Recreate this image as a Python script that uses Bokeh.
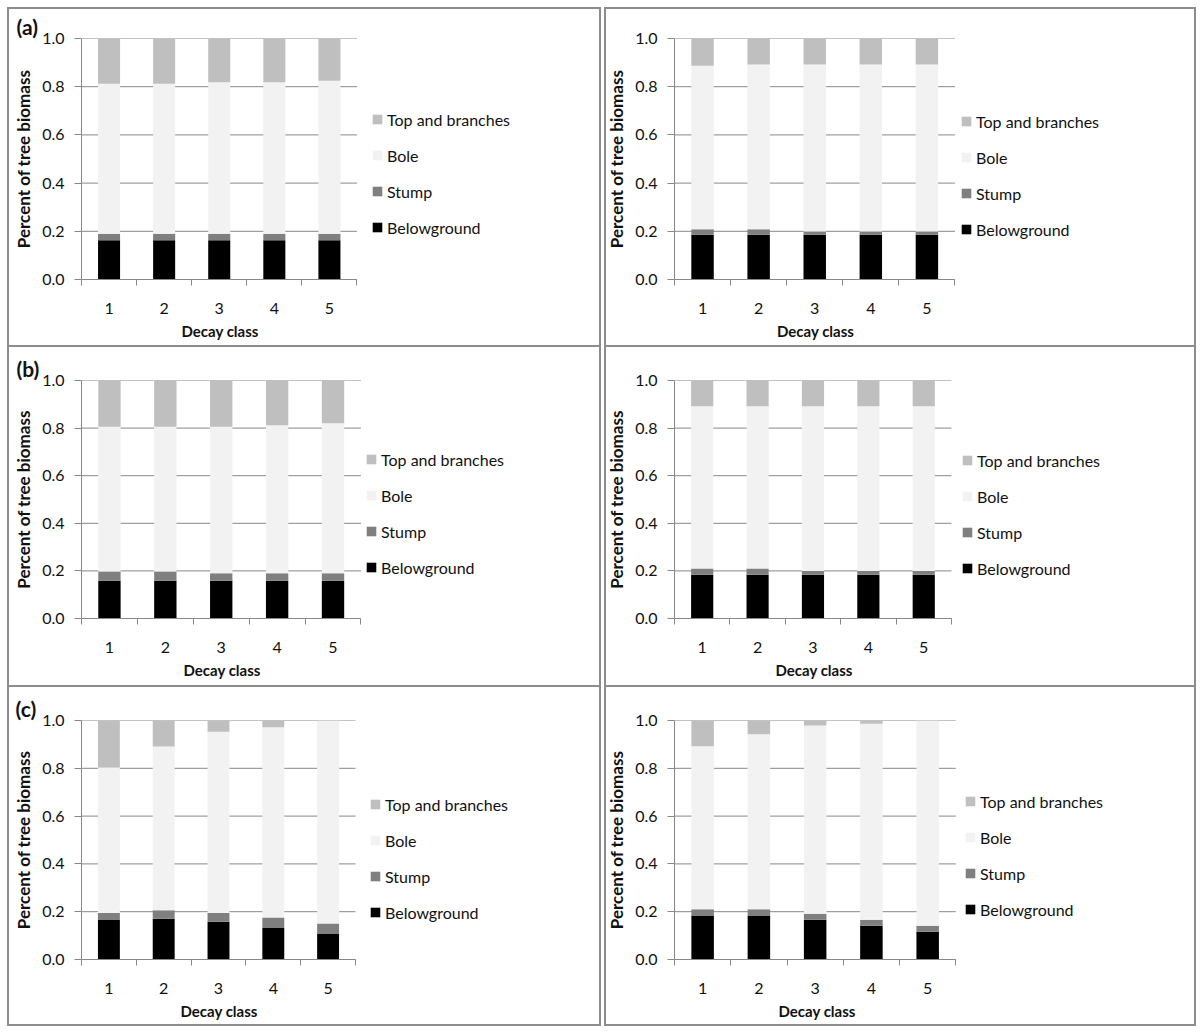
from bokeh.plotting import figure
from bokeh.layouts import gridplot
from bokeh.models import (Range1d, FixedTicker, Legend, LegendItem, Title,
                          PrintfTickFormatter, ColumnDataSource)
from bokeh.embed import file_html
from bokeh.resources import INLINE

# ---------------- data ----------------
decay_class = [1, 2, 3, 4, 5]
components = ["Belowground", "Stump", "Bole", "Top and branches"]
y_ticks = [0.0, 0.2, 0.4, 0.6, 0.8, 1.0]
panel_tags = ["(a)", "", "(b)", "", "(c)", ""]
x_title = "Decay class"
y_title = "Percent of tree biomass"

# (a) left
a1_below = [0.163, 0.163, 0.163, 0.163, 0.163]
a1_stump = [0.027, 0.027, 0.027, 0.027, 0.027]
a1_bole = [0.622, 0.622, 0.628, 0.628, 0.635]
a1_top = [0.188, 0.188, 0.182, 0.182, 0.175]
# (a) right
a2_below = [0.186, 0.186, 0.186, 0.186, 0.186]
a2_stump = [0.023, 0.023, 0.013, 0.013, 0.013]
a2_bole = [0.678, 0.683, 0.693, 0.693, 0.693]
a2_top = [0.113, 0.108, 0.108, 0.108, 0.108]
# (b) left
b1_below = [0.159, 0.159, 0.159, 0.159, 0.159]
b1_stump = [0.038, 0.038, 0.031, 0.031, 0.031]
b1_bole = [0.609, 0.609, 0.616, 0.622, 0.630]
b1_top = [0.194, 0.194, 0.194, 0.188, 0.180]
# (b) right
b2_below = [0.184, 0.184, 0.184, 0.184, 0.184]
b2_stump = [0.026, 0.026, 0.016, 0.016, 0.016]
b2_bole = [0.682, 0.682, 0.692, 0.692, 0.692]
b2_top = [0.108, 0.108, 0.108, 0.108, 0.108]
# (c) left
c1_below = [0.165, 0.170, 0.158, 0.132, 0.107]
c1_stump = [0.030, 0.036, 0.037, 0.044, 0.044]
c1_bole = [0.608, 0.685, 0.758, 0.796, 0.849]
c1_top = [0.197, 0.109, 0.047, 0.028, 0.000]
# (c) right
c2_below = [0.184, 0.184, 0.166, 0.141, 0.116]
c2_stump = [0.026, 0.026, 0.025, 0.025, 0.025]
c2_bole = [0.682, 0.732, 0.788, 0.820, 0.859]
c2_top = [0.108, 0.058, 0.021, 0.014, 0.000]

# ---------------- styling ----------------
COLORS = ["#000000", "#7f7f7f", "#f2f2f2", "#bfbfbf"]
GREY = "#888888"
FONT = "Lato"
TXT = "#111111"
RIGHT_PAD = 4
X_TITLE_HALF_W = 38   # approx. half width of the bold x title, px

# fig w, fig h, frame left, plot-area width, frame top, frame height,
# legend x (from plot-area right), legend y (from frame bottom),
# border insets (top, right, bottom, left) -- None = no line on that side
layouts = [
    (603, 347, 80, 276, 38, 241, 14, 42, (7, 2, 0, 7)),
    (597, 347, 70, 281, 34, 248, 5, 40, (7, 4, 0, 1)),
    (603, 340, 80, 280, 33, 238, 4, 41, (None, 2, 0, 7)),
    (597, 340, 69, 278, 33, 242, 9, 40, (None, 4, 0, 1)),
    (603, 346, 81, 274, 33, 239, 14, 37, (None, 2, 7, 7)),
    (597, 346, 66, 284, 33, 242, 6, 40, (None, 4, 7, 1)),
]

panel_data = [
    (a1_below, a1_stump, a1_bole, a1_top),
    (a2_below, a2_stump, a2_bole, a2_top),
    (b1_below, b1_stump, b1_bole, b1_top),
    (b2_below, b2_stump, b2_bole, b2_top),
    (c1_below, c1_stump, c1_bole, c1_top),
    (c2_below, c2_stump, c2_bole, c2_top),
]


def border_css(ins):
    t, r, b, l = ins
    top = 0 if t is None else t
    side = "border-top: none;" if t is None else ""
    return (":host::after { content: ''; position: absolute; "
            f"top: {top}px; right: {r}px; bottom: {b}px; left: {l}px; "
            "border: 2px solid #8c8c8c; box-sizing: border-box; "
            f"{side} pointer-events: none; z-index: 50; }}")


def make_panel(data, lay, tag):
    W, H, fl, fw, ft, fh, lx, ly, ins = lay
    bounds = [c - 0.5 for c in decay_class] + [decay_class[-1] + 0.5]
    # the frame runs to the right edge so the legend can sit inside it;
    # the category axis itself only covers bounds[0]..bounds[-1]
    frame_w = W - fl - RIGHT_PAD
    x_end = bounds[0] + frame_w * (bounds[-1] - bounds[0]) / fw
    p = figure(width=W, height=H,
               x_range=Range1d(bounds[0], x_end), y_range=Range1d(0, 1),
               output_backend="svg", toolbar_location=None,
               min_border_left=fl, min_border_right=RIGHT_PAD,
               min_border_top=ft, min_border_bottom=H - ft - fh)
    p.outline_line_color = None
    p.background_fill_color = "white"
    p.border_fill_color = "white"
    p.stylesheets = [border_css(ins)]

    # horizontal gridlines over the category area only
    p.xgrid.visible = False
    p.ygrid.visible = False
    p.segment(x0=bounds[0], x1=bounds[-1], y0=y_ticks, y1=y_ticks,
              line_color=GREY, line_width=1)

    below, stump, bole, top = data
    src = ColumnDataSource(dict(x=decay_class, below=below, stump=stump,
                                bole=bole, top=top))
    rs = p.vbar_stack(["below", "stump", "bole", "top"], x="x", width=0.4,
                      fill_color=COLORS, line_color=None, source=src)

    # y axis
    ya = p.yaxis[0]
    ya.ticker = FixedTicker(ticks=y_ticks, minor_ticks=[])
    ya.formatter = PrintfTickFormatter(format="%.1f")
    ya.axis_line_color = GREY
    ya.major_tick_line_color = GREY
    ya.major_tick_out = 7
    ya.major_tick_in = 0
    ya.minor_tick_line_color = None
    ya.major_label_standoff = 10
    ya.major_label_text_font = FONT
    ya.major_label_text_font_size = "16px"
    ya.major_label_text_color = TXT
    ya.axis_label = y_title
    ya.axis_label_text_font = FONT
    ya.axis_label_text_font_style = "bold"
    ya.axis_label_text_font_size = "17px"
    ya.axis_label_text_color = TXT
    ya.axis_label_standoff = 5

    # x axis (tick marks between categories)
    xa = p.xaxis[0]
    xa.bounds = (bounds[0], bounds[-1])
    xa.ticker = FixedTicker(ticks=decay_class, minor_ticks=bounds)
    xa.axis_line_color = GREY
    xa.major_tick_line_color = None
    xa.major_tick_out = 0
    xa.major_tick_in = 0
    xa.minor_tick_line_color = GREY
    xa.minor_tick_out = 6
    xa.minor_tick_in = 0
    xa.major_label_standoff = 17
    xa.major_label_text_font = FONT
    xa.major_label_text_font_size = "16px"
    xa.major_label_text_color = TXT

    # x title, centred under the category area
    p.add_layout(Title(text=x_title, align="left", offset=fw / 2 - X_TITLE_HALF_W,
                       standoff=6, text_font=FONT, text_font_style="bold",
                       text_font_size="15px", text_color=TXT), "below")

    # legend (reverse stacking order, as in the original)
    items = [LegendItem(label=components[i], renderers=[rs[i]]) for i in [3, 2, 1, 0]]
    leg = Legend(items=items, location=(fw + lx, ly), orientation="vertical",
                 glyph_width=12, glyph_height=12, label_height=20, spacing=16,
                 padding=0, margin=0, label_standoff=4,
                 border_line_color=None, background_fill_alpha=0,
                 label_text_font=FONT, label_text_font_size="16px",
                 label_text_color=TXT)
    p.add_layout(leg)

    if tag:
        p.add_layout(Title(text=tag, align="left", offset=-(fl - 15), standoff=0,
                           text_font=FONT, text_font_style="bold",
                           text_font_size="21px", text_color=TXT), "above")
    return p


panels = [make_panel(d, l, t) for d, l, t in zip(panel_data, layouts, panel_tags)]
grid = gridplot([[panels[0], panels[1]], [panels[2], panels[3]], [panels[4], panels[5]]],
                toolbar_location=None)

open("out.html", "w").write(file_html(grid, INLINE))
